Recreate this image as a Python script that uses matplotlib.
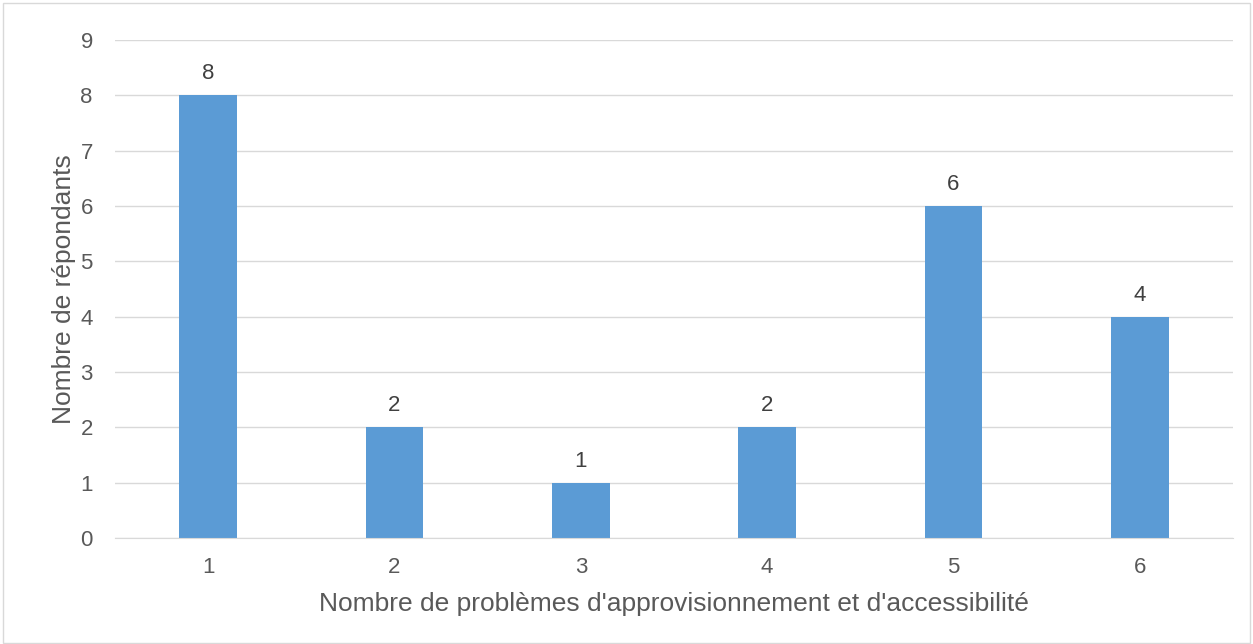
import matplotlib
matplotlib.use("Agg")
import matplotlib.pyplot as plt
from matplotlib.patches import Rectangle

categories = ["1", "2", "3", "4", "5", "6"]
counts = [8, 2, 1, 2, 6, 4]
y_ticks = list(range(0, 10))

BAR_COLOR = "#5B9BD5"
TEXT_COLOR = "#595959"
GRID_COLOR = "#D9D9D9"

plt.rcParams["font.family"] = ["Liberation Sans", "DejaVu Sans"]

fig = plt.figure(figsize=(12.53, 6.44), dpi=100)
ax = fig.add_axes([0.0918, 0.1646, 0.8922, 0.7733])

x = list(range(1, len(categories) + 1))
ax.bar(x, counts, width=0.31, color=BAR_COLOR, zorder=3)

for xi, v in zip(x, counts):
    ax.text(xi, v + 0.2, str(v), ha="center", va="bottom",
            fontsize=16, color="#404040")

ax.set_xlim(0.5, 6.5)
ax.set_ylim(0, 9)
ax.set_yticks(y_ticks)
ax.set_xticks(x)
ax.set_xticklabels(categories)
ax.yaxis.grid(True, color=GRID_COLOR, linewidth=1, zorder=0)
ax.tick_params(axis="both", length=0, labelsize=16, labelcolor=TEXT_COLOR)
ax.tick_params(axis="y", pad=16)
ax.tick_params(axis="x", pad=14)

for side in ["top", "right", "left"]:
    ax.spines[side].set_visible(False)
ax.spines["bottom"].set_color(GRID_COLOR)
ax.spines["bottom"].set_zorder(4)

ax.set_xlabel("Nombre de problèmes d'approvisionnement et d'accessibilité",
              fontsize=19, color=TEXT_COLOR, labelpad=10)
ax.set_ylabel("Nombre de répondants", fontsize=19, color=TEXT_COLOR, labelpad=3)

# light frame around the chart
fig.patches.append(Rectangle((0.002, 0.002), 0.996, 0.994, transform=fig.transFigure,
                             fill=False, edgecolor="#D9D9D9", linewidth=1))

fig.savefig("out.png", dpi=100)
